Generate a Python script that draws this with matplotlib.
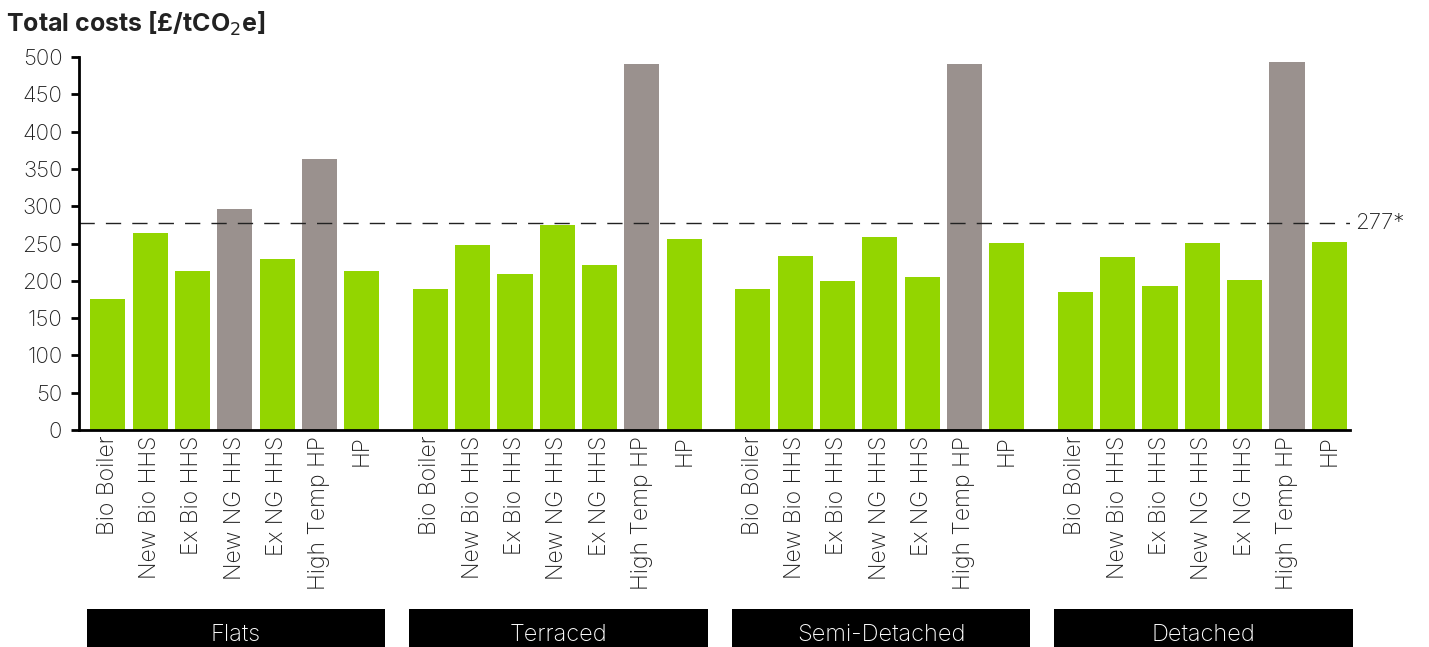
import numpy as np
import matplotlib.pyplot as plt
from matplotlib.patches import Rectangle
import matplotlib.transforms as mtransforms

plt.rcParams['font.family'] = ['Inter', 'DejaVu Sans']

technologies = ['Bio Boiler', 'New Bio HHS', 'Ex Bio HHS', 'New NG HHS',
                'Ex NG HHS', 'High Temp HP', 'HP']
dwellings = ['Flats', 'Terraced', 'Semi-Detached', 'Detached']

costs_flats = [175, 264, 213, 296, 229, 363, 213]
costs_terraced = [189, 248, 209, 275, 221, 490, 256]
costs_semi = [189, 233, 200, 259, 205, 490, 251]
costs_detached = [185, 232, 193, 251, 201, 493, 252]
costs = [costs_flats, costs_terraced, costs_semi, costs_detached]

# technologies above the threshold shown in grey
over_threshold = [
    [False, False, False, True, False, True, False],
    [False, False, False, False, False, True, False],
    [False, False, False, False, False, True, False],
    [False, False, False, False, False, True, False],
]
threshold = 277

green = '#93d500'
grey = '#9a918e'
text_col = '#222222'
group_step = 7.62

fig = plt.figure(figsize=(14.29, 6.47), dpi=100)
ax = fig.add_axes([79 / 1429, 1 - 430 / 647, (1350 - 79) / 1429, (430 - 57) / 647])

xs, labels = [], []
for g, vals in enumerate(costs):
    x = g * group_step + np.arange(len(vals))
    cols = [grey if o else green for o in over_threshold[g]]
    ax.bar(x, vals, width=0.83, color=cols, linewidth=0, zorder=2)
    xs.extend(x)
    labels.extend(technologies)

ax.set_xticks(xs)
ax.set_xticklabels(labels, rotation=90, fontsize=16.5, color=text_col, fontweight='light')
ax.tick_params(axis='x', length=0, pad=4)
ax.set_ylim(0, 500)
ax.set_yticks(range(0, 501, 50))
ax.tick_params(axis='y', length=6, width=2, labelsize=16, labelcolor=text_col, pad=6)
for t in ax.get_yticklabels():
    t.set_fontweight('light')
ax.set_xlim(-0.68, 3 * group_step + 6.49)

for s in ['top', 'right']:
    ax.spines[s].set_visible(False)
ax.spines['left'].set_linewidth(2)
ax.spines['bottom'].set_linewidth(2)
ax.spines['left'].set_zorder(3)
ax.spines['bottom'].set_zorder(3)

ax.axhline(threshold, color=text_col, linewidth=1, dashes=(11, 8), zorder=3)
ax.annotate(f'{threshold}*', xy=(1.0, threshold), xycoords=('axes fraction', 'data'),
            xytext=(4, 0), textcoords='offset points', va='center', ha='left',
            fontsize=16, color=text_col, fontweight='light', annotation_clip=False)

# dwelling type boxes below the tick labels
trans = mtransforms.blended_transform_factory(ax.transData, ax.transAxes)
for g, name in enumerate(dwellings):
    left = g * group_step - 0.5
    ax.add_patch(Rectangle((left, -0.59), 7.05, 0.11, transform=trans,
                           facecolor='black', edgecolor='none', clip_on=False))
    ax.text(left + 3.53, -0.55, name, transform=trans, ha='center', va='center',
            color='white', fontsize=17, fontweight='light')

fig.text(6 / 1429, 1 - 24 / 647, 'Total costs [£/tCO$_2$e]', fontsize=18,
         fontweight='bold', color=text_col, va='center', ha='left')

fig.savefig('out.png', dpi=100)
